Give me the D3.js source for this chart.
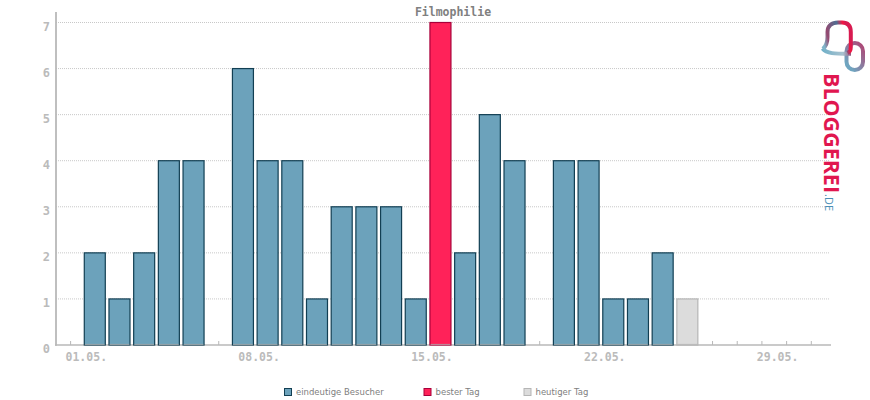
<!DOCTYPE html>
<html>
<head>
<meta charset="utf-8">
<script src="https://cdn.jsdelivr.net/npm/d3@7"></script>
<style>
  html, body { margin: 0; padding: 0; background: #fff; }
  svg { display: block; }
  text { font-family: "DejaVu Sans Mono", monospace; }
</style>
</head>
<body>
<div id="chart"></div>
<script>
const title = 'Filmophilie'
const days = d3.range(1, 26)
const visitors = [2, 1, 2, 4, 4, 0, 6, 4, 4, 1, 3, 3, 3, 1, 7, 2, 5, 4, 0, 4, 4, 1, 1, 2, 1]
const bestDay = 15
const today = 25
const tickDays = d3.range(0, 31)
const labelDays = [1, 8, 15, 22, 29]
const dayLabels = ['01.05.', '08.05.', '15.05.', '22.05.', '29.05.']
const yTicks = [0, 1, 2, 3, 4, 5, 6, 7]
const legendLabels = ['eindeutige Besucher', 'bester Tag', 'heutiger Tag']

const width = 870
const height = 400
const colors = {
  bar: '#6ca2bb', barStroke: '#123f53',
  best: '#ff2259', bestStroke: '#a8003a',
  today: '#dcdcdc', todayStroke: '#b5b5b5',
  axis: '#b8b8b8', grid: '#c8c8c8', label: '#bbbbbb', text: '#808080'
}

const svg = d3.select('#chart').append('svg')
  .attr('width', width)
  .attr('height', height)
  .attr('viewBox', [0, 0, width, height])

const x = d3.scaleLinear().domain([0, 30]).range([70.1, 810.8])
const y = d3.scaleLinear().domain([0, 7]).range([345, 22.5])
const barWidth = 21

// Gitterlinien
svg.append('g').selectAll('line')
  .data(yTicks.slice(1))
  .join('line')
  .attr('x1', 56).attr('x2', 830)
  .attr('y1', d => y(d)).attr('y2', d => y(d))
  .attr('stroke', colors.grid)
  .attr('stroke-dasharray', '1 1')

// Achsen
const xAxis = svg.append('g')
  .attr('transform', `translate(0,${y(0)})`)
  .call(d3.axisBottom(x).tickValues(tickDays).tickSize(-4).tickFormat(''))
xAxis.select('.domain').remove()
xAxis.selectAll('line').attr('stroke', colors.axis)
svg.append('line')
  .attr('x1', 55).attr('x2', 831)
  .attr('y1', y(0)).attr('y2', y(0))
  .attr('stroke', colors.axis).attr('stroke-width', 1.6)

const yAxis = svg.append('g')
  .attr('transform', 'translate(56,0)')
  .call(d3.axisLeft(y).tickValues(yTicks).tickSize(0).tickPadding(6).tickFormat(d3.format('d')))
yAxis.select('.domain').remove()
yAxis.selectAll('text')
  .attr('fill', colors.label)
  .attr('font-family', '"DejaVu Sans Mono", monospace')
  .attr('font-weight', 'bold')
  .attr('font-size', 12)
  .attr('dy', '0.63em')
svg.append('line')
  .attr('x1', 56).attr('x2', 56)
  .attr('y1', 12).attr('y2', 345.8)
  .attr('stroke', colors.axis).attr('stroke-width', 1.8)

// Balken
const fillOf = d => d === today ? colors.today : d === bestDay ? colors.best : colors.bar
const strokeOf = d => d === today ? colors.todayStroke : d === bestDay ? colors.bestStroke : colors.barStroke
svg.append('g').selectAll('rect')
  .data(days.filter((d, i) => visitors[i] > 0))
  .join('rect')
  .attr('x', d => x(d) - barWidth / 2)
  .attr('width', barWidth)
  .attr('y', d => y(visitors[d - 1]))
  .attr('height', d => y(0) - y(visitors[d - 1]))
  .attr('fill', d => fillOf(d))
  .attr('stroke', d => strokeOf(d))
  .attr('stroke-width', 1.2)

// Achsenlinie schimmert im Balken durch
svg.append('g').selectAll('line')
  .data(days.filter((d, i) => visitors[i] > 0))
  .join('line')
  .attr('x1', d => x(d) - barWidth / 2 + 0.6)
  .attr('x2', d => x(d) + barWidth / 2 - 0.6)
  .attr('y1', y(0) - 0.6).attr('y2', y(0) - 0.6)
  .attr('stroke', colors.axis).attr('stroke-width', 0.8)

// Datumslabels
svg.append('g').selectAll('text')
  .data(labelDays)
  .join('text')
  .attr('x', d => x(d) - 8.5)
  .attr('y', 361)
  .attr('text-anchor', 'middle')
  .attr('fill', colors.label)
  .attr('font-weight', 'bold')
  .attr('font-size', 11.5)
  .text((d, i) => dayLabels[i])

// Titel
svg.append('text')
  .attr('x', 453).attr('y', 16)
  .attr('text-anchor', 'middle')
  .attr('fill', colors.text)
  .attr('font-weight', 'bold')
  .attr('font-size', 11.5)
  .text(title)

// Legende
const legendX = [284, 423.5, 523.5]
const legendFill = [colors.bar, colors.best, colors.today]
const legendStroke = [colors.barStroke, colors.bestStroke, colors.todayStroke]
const legend = svg.append('g').selectAll('g')
  .data(legendLabels)
  .join('g')
  .attr('transform', (d, i) => `translate(${legendX[i]},388)`)
legend.append('rect')
  .attr('x', 0.5).attr('y', 0.5)
  .attr('width', 7).attr('height', 7)
  .attr('fill', (d, i) => legendFill[i])
  .attr('stroke', (d, i) => legendStroke[i])
legend.append('text')
  .attr('x', 12).attr('y', 7)
  .attr('fill', colors.text)
  .attr('font-size', 8.5)
  .style('font-family', '"DejaVu Sans", sans-serif')
  .text(d => d)

// Logo
const defs = svg.append('defs')
const logoGrad = defs.append('linearGradient')
  .attr('id', 'logoText')
  .attr('gradientUnits', 'userSpaceOnUse')
  .attr('x1', 0).attr('y1', 73).attr('x2', 0).attr('y2', 193)
logoGrad.append('stop').attr('offset', 0).attr('stop-color', '#e0174f')
logoGrad.append('stop').attr('offset', 0.5).attr('stop-color', '#93406f')
logoGrad.append('stop').attr('offset', 1).attr('stop-color', '#47628f')

const bubbleGrad = defs.append('linearGradient')
  .attr('id', 'logoBubble')
  .attr('gradientUnits', 'userSpaceOnUse')
  .attr('x1', 822).attr('y1', 48).attr('x2', 850).attr('y2', 40)
bubbleGrad.append('stop').attr('offset', 0.1).attr('stop-color', '#7fb4c9')
bubbleGrad.append('stop').attr('offset', 0.3).attr('stop-color', '#96486f')
bubbleGrad.append('stop').attr('offset', 0.72).attr('stop-color', '#4f6d92')
bubbleGrad.append('stop').attr('offset', 0.92).attr('stop-color', '#f5143f')
bubbleGrad.append('stop').attr('offset', 1).attr('stop-color', '#d81a50')

const baseGrad = defs.append('linearGradient')
  .attr('id', 'logoBase')
  .attr('gradientUnits', 'userSpaceOnUse')
  .attr('x1', 822).attr('y1', 0).attr('x2', 852).attr('y2', 0)
baseGrad.append('stop').attr('offset', 0).attr('stop-color', '#6fb0c8')
baseGrad.append('stop').attr('offset', 0.7).attr('stop-color', '#a9c2cf')
baseGrad.append('stop').attr('offset', 1).attr('stop-color', '#8f4a75')

const pillGrad = defs.append('linearGradient')
  .attr('id', 'logoPill')
  .attr('gradientUnits', 'userSpaceOnUse')
  .attr('x1', 846).attr('y1', 62).attr('x2', 864).attr('y2', 48)
pillGrad.append('stop').attr('offset', 0).attr('stop-color', '#6fa5c0')
pillGrad.append('stop').attr('offset', 1).attr('stop-color', '#ab4a78')

const logo = svg.append('g').attr('fill', 'none').attr('stroke-width', 4)
logo.append('rect')
  .attr('x', 846.5).attr('y', 43).attr('width', 16.5).attr('height', 27).attr('rx', 8.2)
  .attr('stroke', 'url(#logoPill)')
logo.append('path')
  .attr('d', 'M822.5,48.5 C827,54 835,53.8 851,53.8')
  .attr('stroke', 'url(#logoBase)')
logo.append('path')
  .attr('d', 'M823,49 C826,46 827.5,42 827.5,37 L827.5,32 C827.5,25.5 832,22.5 838,22.5 L842,22.5 C848,22.5 850.8,26 850.8,32 L850.8,47 C850.8,50 849.5,52 847.5,53')
  .attr('stroke', 'url(#logoBubble)')

svg.append('text')
  .attr('transform', 'translate(824,73) rotate(90)')
  .attr('fill', 'url(#logoText)')
  .attr('font-size', 21)
  .attr('font-weight', 'bold')
  .attr('textLength', 120)
  .attr('lengthAdjust', 'spacingAndGlyphs')
  .style('font-family', '"Open Sans", sans-serif')
  .text('BLOGGEREI')
svg.append('text')
  .attr('transform', 'translate(825,194) rotate(90)')
  .attr('fill', '#4a8fb5')
  .attr('font-size', 11)
  .attr('textLength', 17)
  .attr('lengthAdjust', 'spacingAndGlyphs')
  .style('font-family', '"Open Sans", sans-serif')
  .text('.DE')
</script>
</body>
</html>
